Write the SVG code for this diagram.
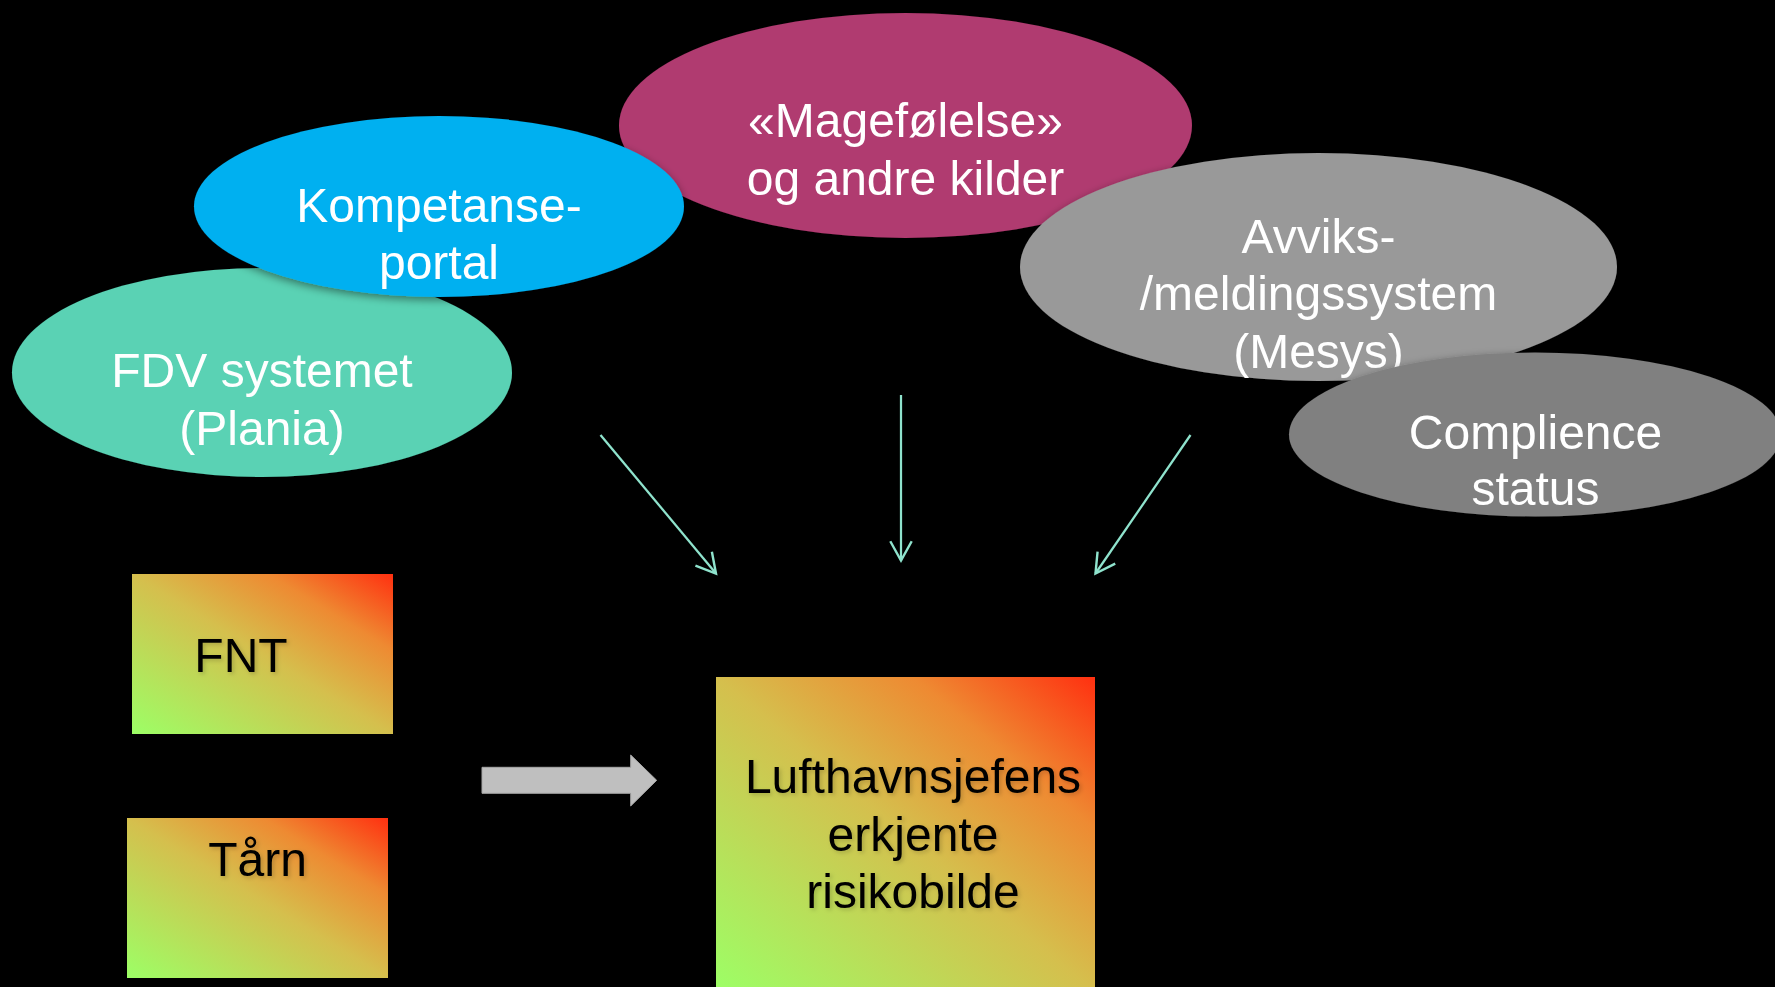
<svg xmlns="http://www.w3.org/2000/svg" width="1775" height="987" viewBox="0 0 1775 987">
  <style>
    .lbl { font-family: "Liberation Sans", Arial, sans-serif; font-size: 48px; text-anchor: middle; }
    .light { fill: #ffffff; }
    .dark { fill: #000000; filter: url(#textShadow); }
    .bubble { filter: url(#softShadow); }
    .flow { stroke: #8fe3cd; stroke-width: 2.25; fill: none; marker-end: url(#openHead); }
  </style>
  <defs>
    <linearGradient id="riskFill" x1="0" y1="1" x2="1" y2="0">
      <stop offset="0" stop-color="#9cff66"/>
      <stop offset="0.5" stop-color="#d5bf4d"/>
      <stop offset="0.76" stop-color="#ee8a32"/>
      <stop offset="1" stop-color="#ff3010"/>
    </linearGradient>
    <filter id="softShadow" x="-10%" y="-10%" width="120%" height="125%">
      <feDropShadow dx="0" dy="3" stdDeviation="4" flood-color="#000" flood-opacity="0.45"/>
    </filter>
    <filter id="textShadow" x="-10%" y="-20%" width="120%" height="150%">
      <feDropShadow dx="2" dy="2" stdDeviation="2" flood-color="#000" flood-opacity="0.18"/>
    </filter>
    <marker id="openHead" markerUnits="userSpaceOnUse" markerWidth="30" markerHeight="30" viewBox="-22 -14 28 28" refX="0" refY="0" orient="auto">
      <path d="M-18,-10 L0,0 L-18,10" fill="none" stroke="#8fe3cd" stroke-width="2.25"/>
    </marker>
  </defs>

  <rect x="0" y="0" width="1775" height="987" fill="#000000"/>

  <!-- source bubbles -->
  <g id="node-fdv" class="bubble">
    <ellipse cx="262" cy="372.5" rx="250" ry="104.5" fill="#5ad2b4"/>
    <text class="lbl light" x="262" y="387">FDV systemet</text>
    <text class="lbl light" x="262" y="445">(Plania)</text>
  </g>

  <g id="node-magefolelse" class="bubble">
    <ellipse cx="905.5" cy="125.5" rx="286.5" ry="112.5" fill="#b03a70"/>
    <text class="lbl light" x="905.5" y="137">«Magefølelse»</text>
    <text class="lbl light" x="905.5" y="195">og andre kilder</text>
  </g>

  <g id="node-kompetanse" class="bubble">
    <ellipse cx="439" cy="206.5" rx="245" ry="90.5" fill="#00b0f0"/>
    <text class="lbl light" x="439" y="221.5">Kompetanse-</text>
    <text class="lbl light" x="439" y="278.5">portal</text>
  </g>

  <g id="node-avvik" class="bubble">
    <ellipse cx="1318.5" cy="267" rx="298.5" ry="114" fill="#999999"/>
    <text class="lbl light" x="1318.5" y="252.5">Avviks-</text>
    <text class="lbl light" x="1318.5" y="310.2">/meldingssystem</text>
    <text class="lbl light" x="1318.5" y="367.9">(Mesys)</text>
  </g>

  <g id="node-compliance" class="bubble">
    <ellipse cx="1535" cy="434.5" rx="246" ry="82" fill="#808080"/>
    <text class="lbl light" x="1535.5" y="449">Complience</text>
    <text class="lbl light" x="1535.5" y="505">status</text>
  </g>

  <!-- risk boxes -->
  <g id="node-fnt">
    <rect x="132" y="574" width="261" height="160" fill="url(#riskFill)"/>
    <text class="lbl dark" x="241" y="671.7">FNT</text>
  </g>

  <g id="node-taarn">
    <rect x="127" y="818" width="261" height="160" fill="url(#riskFill)"/>
    <text class="lbl dark" x="257.5" y="876">Tårn</text>
  </g>

  <g id="node-risikobilde">
    <rect x="716" y="677" width="379" height="315" fill="url(#riskFill)"/>
    <text class="lbl dark" x="913" y="792.5">Lufthavnsjefens</text>
    <text class="lbl dark" x="913" y="850.5">erkjente</text>
    <text class="lbl dark" x="913" y="908.3">risikobilde</text>
  </g>

  <!-- connectors -->
  <g id="connectors">
    <line class="flow" x1="600.5" y1="435" x2="716" y2="573.5"/>
    <line class="flow" x1="901" y1="395" x2="901" y2="560.5"/>
    <line class="flow" x1="1190.5" y1="435" x2="1095.5" y2="573.5"/>
    <path id="block-arrow" d="M482,767.3 L630.7,767.3 L630.7,755 L656.7,780.3 L630.7,806 L630.7,793.3 L482,793.3 Z" fill="#bfbfbf" stroke="#a6a6a6" stroke-width="1"/>
  </g>
</svg>
